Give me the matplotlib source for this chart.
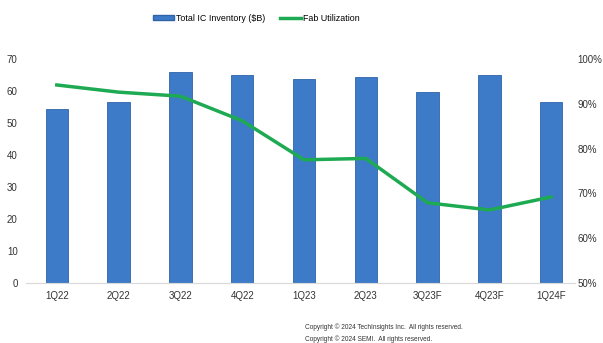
import matplotlib
matplotlib.use("Agg")
from matplotlib import pyplot as plt
from matplotlib.lines import Line2D
from matplotlib.patches import Patch

plt.rcParams['font.family'] = ['Liberation Sans', 'DejaVu Sans']

quarters = ['1Q22', '2Q22', '3Q22', '4Q22', '1Q23', '2Q23', '3Q23F', '4Q23F', '1Q24F']
inventory = [54.3, 56.5, 66.0, 65.0, 63.7, 64.3, 59.7, 65.0, 56.6]
utilization = [94.2, 92.6, 91.7, 86.2, 77.5, 77.8, 67.9, 66.3, 69.2]

bar_color = '#3d7bc8'
line_color = '#1eaa52'

fig = plt.figure(figsize=(6.03, 3.43), dpi=100)
ax = fig.add_axes([0.043, 0.175, 0.91, 0.653])
x = list(range(len(quarters)))
ax.bar(x, inventory, width=0.36, color=bar_color, edgecolor='#2f63a8', linewidth=0.6, zorder=2)
ax.set_ylim(0, 70)
ax.set_xlim(-0.5, 8.38)
ax.set_yticks(range(0, 71, 10))
ax.set_xticks(x)
ax.set_xticklabels(quarters)
for s in ['top', 'right', 'left']:
    ax.spines[s].set_visible(False)
ax.spines['bottom'].set_color('#d9d9d9')
ax.tick_params(axis='both', length=0, labelsize=7, colors='#333333')
ax.tick_params(axis='y', pad=6)
ax.tick_params(axis='x', pad=6)

ax2 = ax.twinx()
ax2.plot(x, utilization, color=line_color, linewidth=2.5, zorder=3)
ax2.set_ylim(50, 100)
ax2.set_yticks(range(50, 101, 10))
ax2.set_yticklabels([str(v) + '%' for v in range(50, 101, 10)])
for s in ['top', 'right', 'left', 'bottom']:
    ax2.spines[s].set_visible(False)
ax2.tick_params(axis='y', length=0, labelsize=7, colors='#333333', pad=2)

handles = [Patch(facecolor=bar_color, edgecolor='#2f63a8'),
           Line2D([0], [0], color=line_color, linewidth=2.5)]
fig.legend(handles, ['Total IC Inventory ($B)', 'Fab Utilization'], loc='center',
           bbox_to_anchor=(0.425, 0.947), ncol=2, frameon=False, fontsize=6.4,
           handlelength=2.4, handleheight=0.6, handletextpad=0.2, columnspacing=1.6)

fig.text(0.506, 0.047, 'Copyright \u00a9 2024 TechInsights Inc.  All rights reserved.',
         fontsize=4.7, color='#333333', va='center')
fig.text(0.506, 0.012, 'Copyright \u00a9 2024 SEMI.  All rights reserved.',
         fontsize=4.7, color='#333333', va='center')

fig.savefig('out.png', dpi=100)
